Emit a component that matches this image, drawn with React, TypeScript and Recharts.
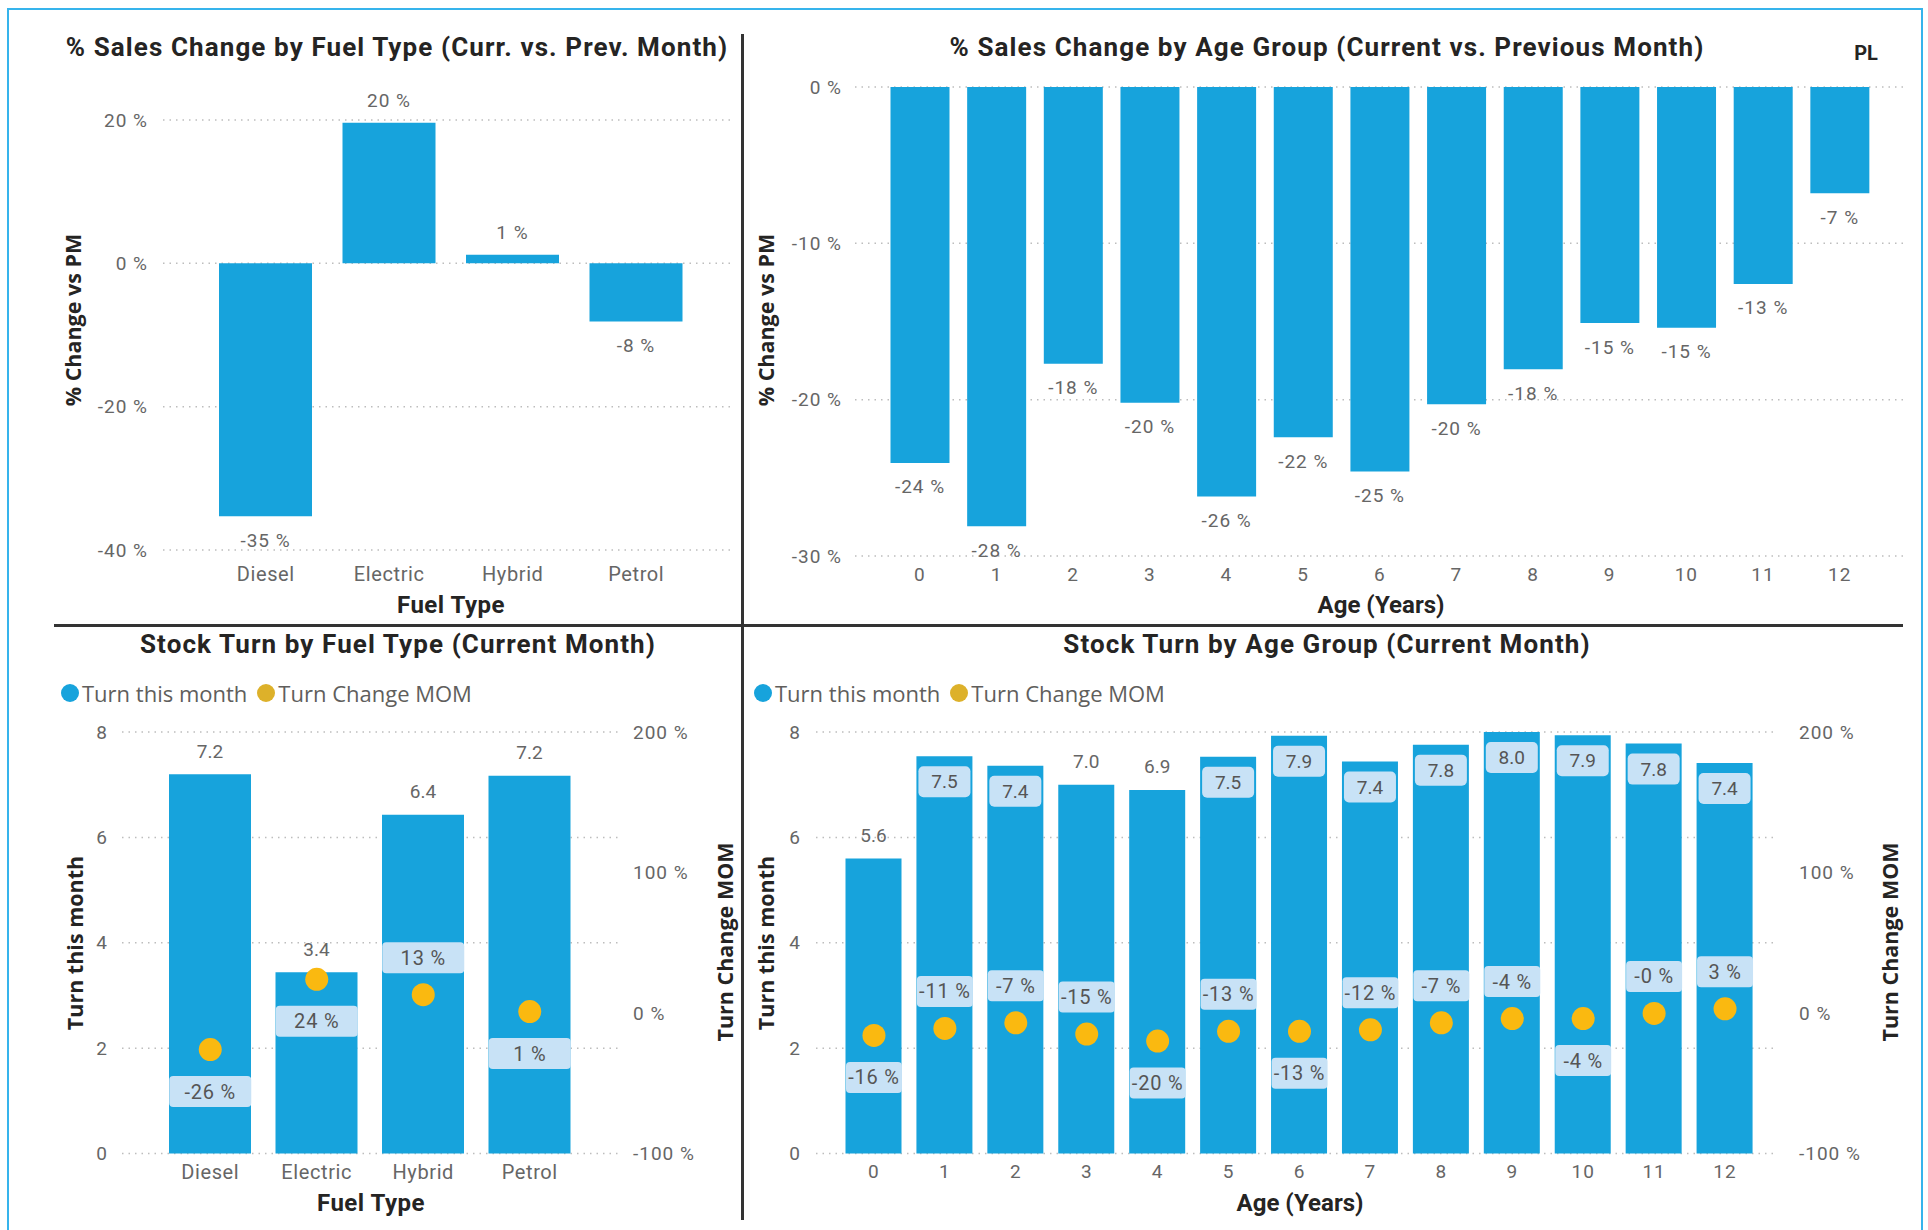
import React from 'react';
import {
  Bar,
  BarChart,
  CartesianGrid,
  ComposedChart,
  LabelList,
  Line,
  XAxis,
  YAxis,
} from 'recharts';

// ---- data ----
const fuelTypes = ['Diesel', 'Electric', 'Hybrid', 'Petrol'];
const fuelSalesChange = [-35.3, 19.6, 1.2, -8.1];

const ageGroups = ['0', '1', '2', '3', '4', '5', '6', '7', '8', '9', '10', '11', '12'];
const ageSalesChange = [-24.05, -28.1, -17.7, -20.2, -26.2, -22.4, -24.6, -20.3, -18.05, -15.1, -15.4, -12.6, -6.8];

const fuelTurn = [7.2, 3.44, 6.43, 7.17];
const fuelTurnMom = [-26, 24, 13, 1];

const ageTurn = [5.6, 7.54, 7.36, 7.0, 6.9, 7.53, 7.93, 7.44, 7.76, 8.0, 7.94, 7.78, 7.41];
const ageTurnMom = [-16, -11, -7, -15, -20, -13, -13, -12, -7, -4, -4, -0.3, 3];

const salesTicks = [-40, -20, 0, 20];
const ageSalesTicks = [-30, -20, -10, 0];
const turnTicks = [0, 2, 4, 6, 8];
const momTicks = [-100, 0, 100, 200];

// where power bi put the MOM data labels
const fuelMomSide = ['below', 'below', 'above', 'below'];
const ageMomSide = ['below', 'above', 'above', 'above', 'below', 'above', 'below', 'above', 'above', 'above', 'below', 'above', 'above'];

const salesByFuel = fuelTypes.map((name, i) => ({ name, change: fuelSalesChange[i] }));
const salesByAge = ageGroups.map((name, i) => ({ name, change: ageSalesChange[i] }));
const turnByFuel = fuelTypes.map((name, i) => ({ name, turn: fuelTurn[i], mom: fuelTurnMom[i] }));
const turnByAge = ageGroups.map((name, i) => ({ name, turn: ageTurn[i], mom: ageTurnMom[i] }));

const BLUE = '#17A3DC';
const YELLOW = '#FAB910';
const BOX = '#C8E2F6';
const GRID = '#BDBDBD';
const MUTED = '#666666';
const DARK = '#252423';
const SEGOE = '"Open Sans", "Noto Sans", sans-serif';

const tickStyle = { fill: MUTED, fontSize: 19, fontFamily: 'Roboto', letterSpacing: 1 };
const catTickStyle = { fill: MUTED, fontSize: 20, fontFamily: 'Roboto', letterSpacing: 0.6 };
const pct = (v: number) => `${v.toFixed(0)} %`;

function readBox(p: any) {
  const vb = p.viewBox || {};
  return {
    x: p.x ?? vb.x ?? 0,
    y: p.y ?? vb.y ?? 0,
    w: p.width ?? vb.width ?? 0,
    h: p.height ?? vb.height ?? 0,
  };
}

function EndLabel(props: any) {
  const { value } = props;
  const { x, y, w, h } = readBox(props);
  const top = Math.min(y, y + h);
  const bottom = Math.max(y, y + h);
  const cy = value >= 0 ? top - 22 : bottom + 24;
  return (
    <text
      x={x + w / 2}
      y={cy}
      textAnchor="middle"
      dominantBaseline="central"
      fill={MUTED}
      fontSize={19}
      letterSpacing={1}
    >
      {pct(value)}
    </text>
  );
}

function TurnLabel(props: any) {
  const { value } = props;
  const { x, y, w, h } = readBox(props);
  const top = Math.min(y, y + h);
  const cx = x + w / 2;
  if (value <= 7.2) {
    return (
      <text x={cx} y={top - 23} textAnchor="middle" dominantBaseline="central" fill={MUTED} fontSize={19}>
        {value.toFixed(1)}
      </text>
    );
  }
  return (
    <g>
      <rect x={x + 2} y={top + 10} width={w - 4} height={31} rx={5} fill={BOX} />
      <text x={cx} y={top + 25.5} textAnchor="middle" dominantBaseline="central" fill="#555" fontSize={19}>
        {value.toFixed(1)}
      </text>
    </g>
  );
}

const makeMomLabel = (sides: string[], boxW: number) => (props: any) => {
  const { value, index } = props;
  const { x, y, w, h } = readBox(props);
  const cx = x + w / 2;
  const py = y + h / 2;
  const cy = sides[index] === 'above' ? py - 37 : py + 42;
  return (
    <g>
      <rect x={cx - boxW / 2} y={cy - 15.5} width={boxW} height={31} rx={4} fill={BOX} />
      <text
        x={cx}
        y={cy}
        textAnchor="middle"
        dominantBaseline="central"
        fill="#555"
        fontSize={20}
        letterSpacing={0.8}
      >
        {pct(value)}
      </text>
    </g>
  );
};

const FuelMomLabel = makeMomLabel(fuelMomSide, 82);
const AgeMomLabel = makeMomLabel(ageMomSide, 56);

function Title({ x, y, children, size = 26, spacing = 1.1 }: { x: number; y: number; children: React.ReactNode; size?: number; spacing?: number }) {
  return (
    <div
      style={{
        position: 'absolute',
        left: x,
        top: y,
        transform: 'translate(-50%, -50%)',
        whiteSpace: 'nowrap',
        lineHeight: 1,
        fontSize: size,
        fontWeight: 700,
        letterSpacing: spacing,
        color: DARK,
      }}
    >
      {children}
    </div>
  );
}

function AxisTitle({ x, y, children }: { x: number; y: number; children: React.ReactNode }) {
  return (
    <div
      style={{
        position: 'absolute',
        left: x,
        top: y,
        transform: 'translate(-50%, -50%) rotate(-90deg)',
        whiteSpace: 'nowrap',
        lineHeight: 1,
        fontSize: 21.5,
        fontWeight: 700,
        fontFamily: SEGOE,
        color: DARK,
      }}
    >
      {children}
    </div>
  );
}

function Legend({ x, y }: { x: number; y: number }) {
  const dot = (c: string) => (
    <span style={{ display: 'inline-block', width: 18, height: 18, borderRadius: 9, background: c, marginRight: 3 }} />
  );
  return (
    <div
      style={{
        position: 'absolute',
        left: x,
        top: y,
        transform: 'translateY(-50%)',
        display: 'flex',
        alignItems: 'center',
        whiteSpace: 'nowrap',
        fontFamily: SEGOE,
        fontSize: 22,
        color: '#605E5C',
        lineHeight: 1,
      }}
    >
      {dot(BLUE)}
      <span style={{ marginRight: 10 }}>Turn this month</span>
      {dot('#DDB12A')}
      <span>Turn Change MOM</span>
    </div>
  );
}

export default function App() {
  return (
    <div
      style={{
        position: 'absolute',
        left: 0,
        top: 0,
        width: 1928,
        height: 1230,
        overflow: 'hidden',
        background: '#fff',
        fontFamily: 'Roboto, sans-serif',
      }}
    >
      {/* page frame and dividers */}
      <div
        style={{
          position: 'absolute',
          left: 7,
          top: 8,
          width: 1916,
          height: 1240,
          boxSizing: 'border-box',
          border: '2px solid #36B4EC',
        }}
      />
      <div style={{ position: 'absolute', left: 741, top: 34, width: 3, height: 1186, background: '#333' }} />
      <div style={{ position: 'absolute', left: 54, top: 624, width: 1849, height: 3, background: '#333' }} />

      {/* top left */}
      <div style={{ position: 'absolute', left: 0, top: 0 }}>
        <BarChart width={750} height={620} data={salesByFuel} margin={{ top: 120, right: 15, bottom: 40, left: 83 }}>
          <CartesianGrid vertical={false} stroke={GRID} strokeDasharray="1.5 5" strokeWidth={1.5} />
          <XAxis
            dataKey="name"
            axisLine={false}
            tickLine={false}
            tickSize={0}
            tickMargin={17}
            height={30}
            padding={{ left: 41, right: 37 }}
            tick={catTickStyle}
          />
          <YAxis
            domain={[-40, 20]}
            ticks={salesTicks}
            tickFormatter={pct}
            width={80}
            axisLine={false}
            tickLine={false}
            tickSize={0}
            tickMargin={15}
            tick={tickStyle}
          />
          <Bar dataKey="change" fill={BLUE} barSize={93} isAnimationActive={false}>
            <LabelList dataKey="change" content={EndLabel} />
          </Bar>
        </BarChart>
      </div>
      <Title x={397} y={47}>% Sales Change by Fuel Type (Curr. vs. Prev. Month)</Title>
      <AxisTitle x={73} y={320}>% Change vs PM</AxisTitle>
      <Title x={451} y={605} size={24} spacing={0.5}>Fuel Type</Title>

      {/* top right */}
      <div style={{ position: 'absolute', left: 740, top: 0 }}>
        <BarChart width={1188} height={620} data={salesByAge} margin={{ top: 87, right: 25, bottom: 34, left: 15 }}>
          <CartesianGrid vertical={false} stroke={GRID} strokeDasharray="1.5 5" strokeWidth={1.5} />
          <XAxis
            dataKey="name"
            axisLine={false}
            tickLine={false}
            tickSize={0}
            tickMargin={12}
            height={30}
            padding={{ left: 26.5, right: 25 }}
            tick={tickStyle}
          />
          <YAxis
            domain={[-30, 0]}
            ticks={ageSalesTicks}
            tickFormatter={pct}
            width={100}
            axisLine={false}
            tickLine={false}
            tickSize={0}
            tickMargin={13}
            tick={tickStyle}
          />
          <Bar dataKey="change" fill={BLUE} barSize={59} isAnimationActive={false}>
            <LabelList dataKey="change" content={EndLabel} />
          </Bar>
        </BarChart>
      </div>
      <Title x={1327} y={47}>% Sales Change by Age Group (Current vs. Previous Month)</Title>
      <Title x={1866} y={53} size={20} spacing={0}>PL</Title>
      <AxisTitle x={766} y={320}>% Change vs PM</AxisTitle>
      <Title x={1381} y={605} size={24} spacing={0}>Age (Years)</Title>

      {/* bottom left */}
      <div style={{ position: 'absolute', left: 0, top: 620 }}>
        <ComposedChart width={750} height={610} data={turnByFuel} margin={{ top: 112, right: 30, bottom: 46.5, left: 62 }}>
          <CartesianGrid vertical={false} yAxisId="left" stroke={GRID} strokeDasharray="1.5 5" strokeWidth={1.5} />
          <XAxis
            dataKey="name"
            axisLine={false}
            tickLine={false}
            tickSize={0}
            tickMargin={11}
            height={30}
            padding={{ left: 35, right: 37 }}
            tick={catTickStyle}
          />
          <YAxis
            yAxisId="left"
            domain={[0, 8]}
            ticks={turnTicks}
            width={60}
            axisLine={false}
            tickLine={false}
            tickSize={0}
            tickMargin={14}
            tick={tickStyle}
          />
          <YAxis
            yAxisId="right"
            orientation="right"
            domain={[-100, 200]}
            ticks={momTicks}
            tickFormatter={pct}
            width={100}
            axisLine={false}
            tickLine={false}
            tickSize={0}
            tickMargin={13}
            tick={tickStyle}
          />
          <Bar yAxisId="left" dataKey="turn" fill={BLUE} barSize={82} isAnimationActive={false}>
            <LabelList dataKey="turn" content={TurnLabel} />
          </Bar>
          <Line
            yAxisId="right"
            dataKey="mom"
            stroke="none"
            dot={{ r: 11.5, fill: YELLOW, stroke: 'none' }}
            activeDot={false}
            isAnimationActive={false}
          >
            <LabelList dataKey="mom" content={FuelMomLabel} />
          </Line>
        </ComposedChart>
      </div>
      <Title x={398} y={644}>Stock Turn by Fuel Type (Current Month)</Title>
      <Legend x={61} y={693} />
      <AxisTitle x={75} y={943}>Turn this month</AxisTitle>
      <AxisTitle x={725} y={942}>Turn Change MOM</AxisTitle>
      <Title x={371} y={1203} size={24} spacing={0.5}>Fuel Type</Title>

      {/* bottom right */}
      <div style={{ position: 'absolute', left: 740, top: 620 }}>
        <ComposedChart width={1188} height={610} data={turnByAge} margin={{ top: 112, right: 50, bottom: 46.5, left: 16 }}>
          <CartesianGrid vertical={false} yAxisId="left" stroke={GRID} strokeDasharray="1.5 5" strokeWidth={1.5} />
          <XAxis
            dataKey="name"
            axisLine={false}
            tickLine={false}
            tickSize={0}
            tickMargin={11}
            height={30}
            padding={{ left: 22.5, right: 17.5 }}
            tick={tickStyle}
          />
          <YAxis
            yAxisId="left"
            domain={[0, 8]}
            ticks={turnTicks}
            width={60}
            axisLine={false}
            tickLine={false}
            tickSize={0}
            tickMargin={15}
            tick={tickStyle}
          />
          <YAxis
            yAxisId="right"
            orientation="right"
            domain={[-100, 200]}
            ticks={momTicks}
            tickFormatter={pct}
            width={100}
            axisLine={false}
            tickLine={false}
            tickSize={0}
            tickMargin={21}
            tick={tickStyle}
          />
          <Bar yAxisId="left" dataKey="turn" fill={BLUE} barSize={56} isAnimationActive={false}>
            <LabelList dataKey="turn" content={TurnLabel} />
          </Bar>
          <Line
            yAxisId="right"
            dataKey="mom"
            stroke="none"
            dot={{ r: 11.5, fill: YELLOW, stroke: 'none' }}
            activeDot={false}
            isAnimationActive={false}
          >
            <LabelList dataKey="mom" content={AgeMomLabel} />
          </Line>
        </ComposedChart>
      </div>
      <Title x={1327} y={644}>Stock Turn by Age Group (Current Month)</Title>
      <Legend x={754} y={693} />
      <AxisTitle x={766} y={943}>Turn this month</AxisTitle>
      <AxisTitle x={1890} y={942}>Turn Change MOM</AxisTitle>
      <Title x={1300} y={1203} size={24} spacing={0}>Age (Years)</Title>
    </div>
  );
}
